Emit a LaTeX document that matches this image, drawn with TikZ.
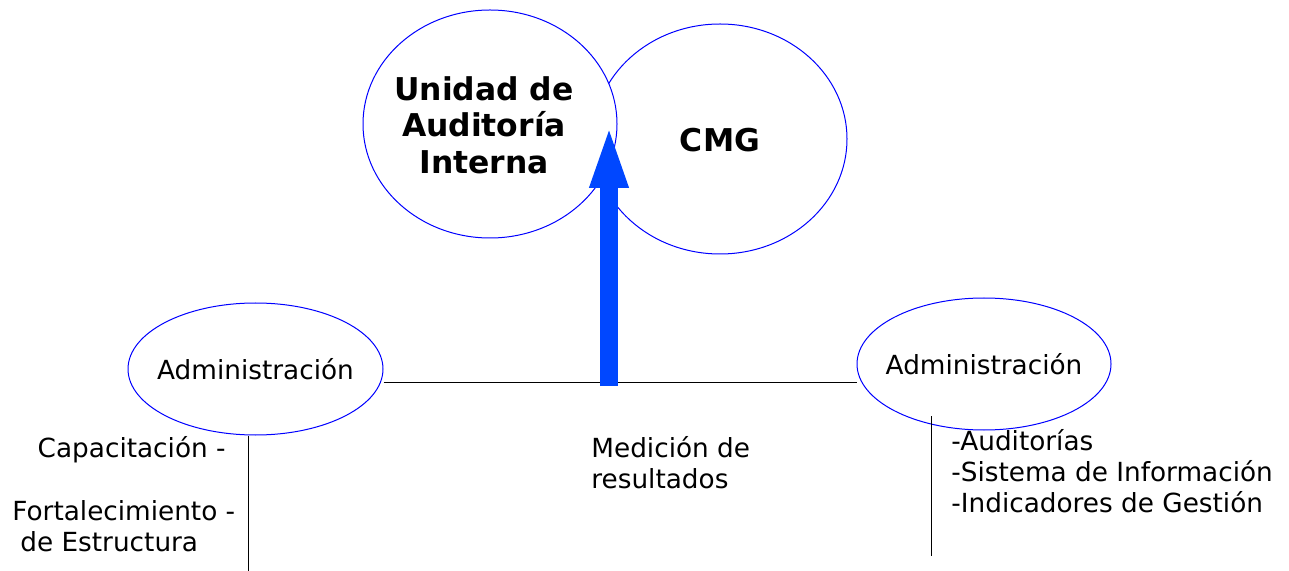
\documentclass[tikz,border=0pt]{standalone}
\usepackage{fontspec}
\setmainfont{DejaVu Sans}
\usetikzlibrary{shapes.geometric, arrows.meta}

\definecolor{ovalblue}{RGB}{0,0,255}
\definecolor{arrowblue}{RGB}{0,71,255}

\tikzset{
  oval/.style={ellipse, draw=ovalblue, fill=white, line width=0.5pt, inner sep=0pt},
  bigtext/.style={font=\fontsize{15.7}{18.3}\selectfont\bfseries, align=center},
  smalltext/.style={font=\fontsize{13.15}{15.5}\selectfont},
  thinline/.style={line width=0.5pt}
}

\begin{document}
\begin{tikzpicture}[x=0.5pt, y=-0.5pt]
\useasboundingbox (0, 0) rectangle (1289, 571);

% top ovals (CMG first, Unidad drawn over it)
\node[oval, minimum width=127pt, minimum height=115pt] (cmg) at (720, 139) {};
\node[oval, minimum width=127pt, minimum height=114pt] (unidad) at (490, 124) {};
\node[bigtext] (unidadtxt) at (484, 125) {Unidad de\\Auditoría\\Interna};
\node[bigtext] (cmgtxt) at (720, 140) {CMG};

% administracion ovals
\node[oval, minimum width=127.5pt, minimum height=66pt] (admL) at (255.5, 369) {};
\node[oval, minimum width=127pt, minimum height=66pt] (admR) at (984, 364) {};
\node[smalltext] (admLtxt) at (admL.center) {Administración};
\node[smalltext] (admRtxt) at (admR.center) {Administración};

% connecting lines
\coordinate (lineY) at (0, 382);
\coordinate (leftEnd) at (248, 571);
\coordinate (rightTop) at (931, 416);
\coordinate (rightEnd) at (931, 556);
\draw[thinline] (admL.east |- lineY) -- (admR.west |- lineY);
\draw[thinline] (admL.south -| leftEnd) -- (leftEnd);
\draw[thinline] (rightTop) -- (rightEnd);

% big arrow
\coordinate (base) at (609, 386);
\coordinate (tip) at (609, 123);
\draw[arrowblue, line width=9pt, -{Triangle[length=32.5pt, width=17pt]}] (base) -- (tip);

% labels
\node[smalltext, anchor=east, inner sep=0pt] (capac) at (226, 450) {Capacitación -};
\node[smalltext, anchor=north west, align=left, inner sep=0pt] (fortal) at (12, 500) {Fortalecimiento -\\\hspace*{4pt}de Estructura};
\node[smalltext, anchor=north west, align=left, inner sep=0pt] (medicion) at (591, 436) {Medición de\\resultados};
\node[smalltext, anchor=north west, align=left, inner sep=0pt] (lista) at (951, 429) {-Auditorías\\-Sistema de Información\\-Indicadores de Gestión};

\end{tikzpicture}
\end{document}
